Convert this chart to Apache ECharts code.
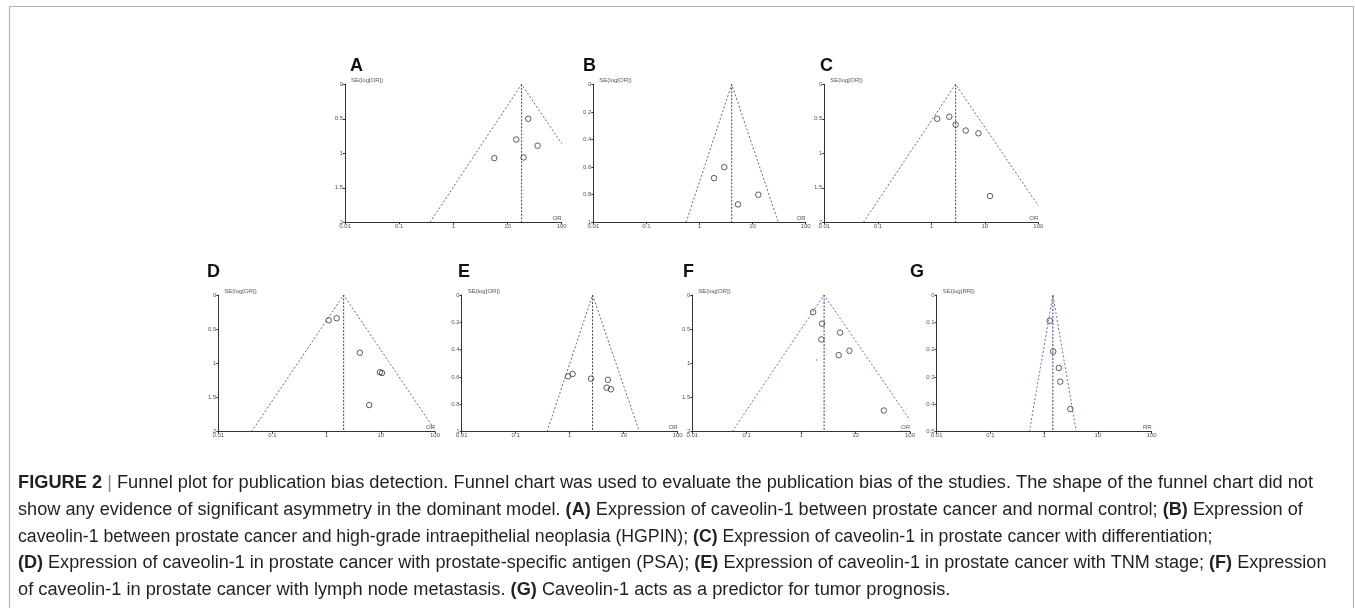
<!DOCTYPE html>
<html>
<head>
<meta charset="utf-8">
<script src="https://cdn.jsdelivr.net/npm/echarts@6/dist/echarts.min.js"></script>
<style>
html,body{margin:0;padding:0;background:#fff;}
#chart{width:1355px;height:608px;}
</style>
</head>
<body>
<div id="chart"></div>
<script>
// ---------- data ----------
const letters = ['A', 'B', 'C', 'D', 'E', 'F', 'G'];
const xTickLabels = ['0.01', '0.1', '1', '10', '100'];
const effectNames = ['OR', 'OR', 'OR', 'OR', 'OR', 'OR', 'RR'];
const yNames = ['SE(log[OR])', 'SE(log[OR])', 'SE(log[OR])', 'SE(log[OR])', 'SE(log[OR])', 'SE(log[OR])', 'SE(log[RR])'];
const seMax = [2, 1, 2, 2, 1, 2, 0.5];
const seStep = [0.5, 0.2, 0.5, 0.5, 0.2, 0.5, 0.1];
const pooled = [18.2, 4.04, 2.85, 2.06, 2.65, 2.64, 1.45];
const funnelLeft = [[0.37, 2], [0.56, 1], [0.054, 2], [0.041, 2], [0.38, 1], [0.054, 2], [0.53, 0.5]];
const funnelRight = [[100, 0.86], [30.5, 1], [100, 1.76], [95, 1.95], [19.5, 1], [100, 1.83], [3.96, 0.5]];

const studiesA = [[24.1, 0.50], [14.5, 0.80], [35.9, 0.89], [19.8, 1.06], [5.7, 1.07]];
const studiesB = [[2.93, 0.60], [1.88, 0.68], [12.8, 0.80], [5.3, 0.87]];
const studiesC = [[1.29, 0.50], [2.17, 0.47], [2.85, 0.585], [4.4, 0.67], [7.6, 0.71], [12.5, 1.62]];
const studiesD = [[1.09, 0.37], [1.53, 0.34], [4.1, 0.845], [9.6, 1.13], [10.5, 1.14], [6.1, 1.61]];
const studiesE = [[0.93, 0.595], [1.13, 0.578], [2.48, 0.612], [5.1, 0.62], [4.84, 0.678], [5.8, 0.69]];
const studiesF = [[1.66, 0.25], [2.42, 0.42], [5.2, 0.55], [2.35, 0.65], [7.7, 0.815], [4.9, 0.88], [33, 1.69]];
const studiesG = [[1.27, 0.094], [1.47, 0.207], [1.87, 0.267], [1.99, 0.317], [3.06, 0.417]];
const strayDotsF = [[1.94, 0.95]];
const studies = [studiesA, studiesB, studiesC, studiesD, studiesE, studiesF, studiesG];

const captionLines = [
  '{b|FIGURE 2} {s||} Funnel plot for publication bias detection. Funnel chart was used to evaluate the publication bias of the studies. The shape of the funnel chart did not',
  'show any evidence of significant asymmetry in the dominant model. {b|(A)} Expression of caveolin-1 between prostate cancer and normal control; {b|(B)} Expression of',
  'caveolin-1 between prostate cancer and high-grade intraepithelial neoplasia (HGPIN); {b|(C)} Expression of caveolin-1 in prostate cancer with differentiation;',
  '{b|(D)} Expression of caveolin-1 in prostate cancer with prostate-specific antigen (PSA); {b|(E)} Expression of caveolin-1 in prostate cancer with TNM stage; {b|(F)} Expression',
  'of caveolin-1 in prostate cancer with lymph node metastasis. {b|(G)} Caveolin-1 acts as a predictor for tumor prognosis.'
];

// ---------- layout / style ----------
const gridBoxes = [
  {left: 345, top: 84.3, width: 216.7, height: 138},
  {left: 593.3, top: 84.3, width: 212.4, height: 138},
  {left: 824.3, top: 84.3, width: 214, height: 138},
  {left: 218.3, top: 295, width: 216.7, height: 136.7},
  {left: 461.7, top: 295, width: 216, height: 136.7},
  {left: 692.3, top: 295, width: 217.7, height: 136.7},
  {left: 936.7, top: 295, width: 215, height: 136.7}
];
const letterPos = [[350, 57], [583, 57], [820, 57], [207, 263], [458, 263], [683, 263], [910, 263]];
const funnelColors = ['#444', '#444', '#444', '#444', '#444', '#4a4aa8', '#4a4aa8'];
const centerColors = ['#444', '#444', '#444', '#444', '#444', '#3a3a70', '#3a3a70'];
const captionTop = [473.7, 501.4, 527.7, 554.5, 581.3];
const captionScale = [1.013, 1.008, 0.982, 1.003, 1.013];

const chart = echarts.init(document.getElementById('chart'));

const grids = [], xAxes = [], yAxes = [], series = [], graphics = [];
const tickFont = {fontSize: 6, color: '#555', fontFamily: 'Liberation Sans'};

gridBoxes.forEach((g, i) => {
  grids.push(Object.assign({containLabel: false, outerBoundsMode: 'none'}, g));
  xAxes.push({
    gridIndex: i, type: 'log', logBase: 10, min: 0.01, max: 100, position: 'bottom',
    name: effectNames[i], nameLocation: 'end', nameGap: 0,
    nameTextStyle: {fontSize: 6, color: '#555', align: 'right', verticalAlign: 'bottom', padding: [0, 0, 1, 0], fontFamily: 'Liberation Sans'},
    axisLine: {onZero: false, lineStyle: {color: '#333', width: 1}},
    axisTick: {length: 2, lineStyle: {color: '#333'}},
    splitLine: {show: false},
    axisLabel: Object.assign({margin: 1, showMinLabel: true, showMaxLabel: true,
      formatter: v => {
        const k = Math.round(Math.log10(v)) + 2;
        return xTickLabels[k] !== undefined ? xTickLabels[k] : '';
      }}, tickFont)
  });
  yAxes.push({
    gridIndex: i, type: 'value', inverse: true, min: 0, max: seMax[i], interval: seStep[i], position: 'left',
    name: yNames[i], nameLocation: 'start', nameGap: 1,
    nameTextStyle: {fontSize: 6, color: '#555', align: 'left', verticalAlign: 'bottom', padding: [0, 0, 0, 6], fontFamily: 'Liberation Sans'},
    axisLine: {show: true, onZero: false, lineStyle: {color: '#333', width: 1}},
    axisTick: {show: true, length: 2, lineStyle: {color: '#333'}},
    splitLine: {show: false},
    axisLabel: Object.assign({margin: 2}, tickFont)
  });
  // funnel (pseudo 95% CI) lines
  series.push({
    type: 'line', xAxisIndex: i, yAxisIndex: i, clip: true, silent: true,
    data: [funnelLeft[i], [pooled[i], 0], funnelRight[i]],
    symbol: 'none', lineStyle: {color: funnelColors[i], width: 0.8, type: [2, 2]}
  });
  // pooled estimate vertical line
  series.push({
    type: 'line', xAxisIndex: i, yAxisIndex: i, clip: true, silent: true,
    data: [[pooled[i], 0], [pooled[i], seMax[i]]],
    symbol: 'none', lineStyle: {color: centerColors[i], width: 1, type: [2, 1.5]}
  });
  // studies
  series.push({
    type: 'scatter', xAxisIndex: i, yAxisIndex: i, silent: true,
    data: studies[i], symbol: 'circle', symbolSize: 5.5,
    itemStyle: {color: 'rgba(255,255,255,0)', borderColor: '#333', borderWidth: 1}
  });
  graphics.push({
    type: 'text', left: letterPos[i][0], top: letterPos[i][1],
    style: {text: letters[i], fontSize: 18, fontWeight: 'bold', fill: '#111', fontFamily: 'Liberation Sans, Arial, sans-serif'}
  });
});

series.push({
  type: 'scatter', xAxisIndex: 5, yAxisIndex: 5, silent: true,
  data: strayDotsF, symbol: 'circle', symbolSize: 1.5,
  itemStyle: {color: '#555'}
});

// frame
graphics.push({
  type: 'rect', shape: {x: 9.5, y: 6.5, width: 1344, height: 700},
  style: {fill: 'none', stroke: '#b5b5b5', lineWidth: 1.2}, silent: true
});

const capFont = '"Liberation Sans", Arial, sans-serif';
captionLines.forEach((t, k) => {
  graphics.push({
    type: 'text', x: 18, y: captionTop[k], scaleX: captionScale[k], scaleY: 1,
    style: {
      text: t, fontSize: 18, fill: '#231f20', fontFamily: capFont,
      rich: {
        b: {fontSize: 18, fontWeight: 'bold', fill: '#231f20', fontFamily: capFont},
        s: {fontSize: 18, fill: '#888', fontFamily: capFont}
      }
    }
  });
});

chart.setOption({
  backgroundColor: '#fff',
  animation: false,
  grid: grids,
  xAxis: xAxes,
  yAxis: yAxes,
  series: series,
  graphic: graphics
});
</script>
</body>
</html>
